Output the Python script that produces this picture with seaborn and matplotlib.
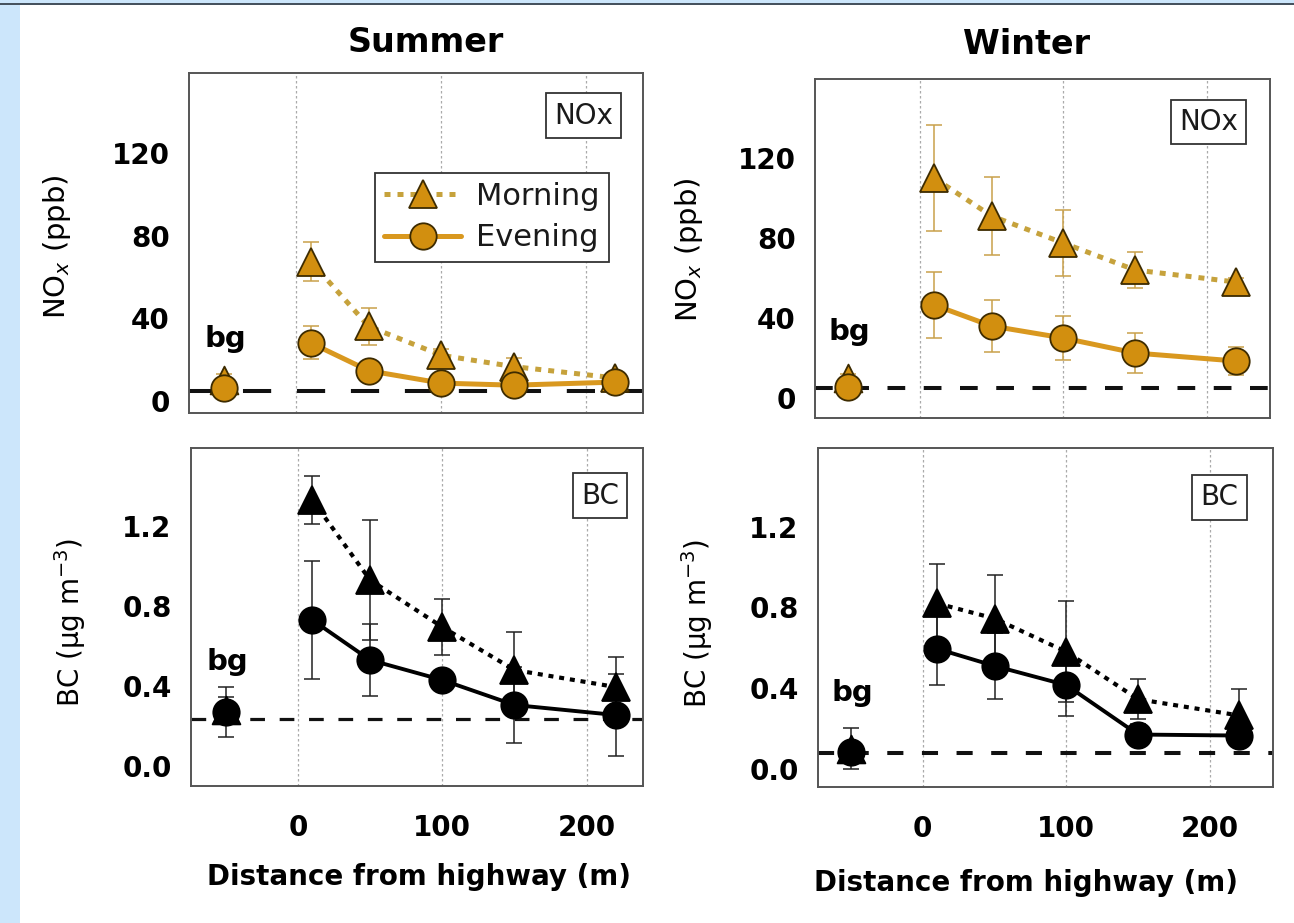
import matplotlib
matplotlib.use("Agg")
import matplotlib.pyplot as plt
from matplotlib.lines import Line2D
from matplotlib.patches import Rectangle
import seaborn as sns

# distances of the roadside sites, background site drawn at -50
dist = [10, 50, 100, 150, 220]
bg_x = -50

# summer NOx (ppb)
s_nox_morning = [67.5, 36, 22, 16.5, 11]
s_nox_morning_err = [9.5, 9, 3, 4, 3]
s_nox_evening = [28, 14.5, 8.5, 7.5, 9]
s_nox_evening_err = [8, 4, 3, 3, 3]
s_nox_bg = [10, 6.3]          # morning, evening
s_nox_bg_err = [3, 2]
s_nox_bg_level = 4.5

# summer BC (ug m-3)
s_bc_morning = [1.33, 0.93, 0.695, 0.48, 0.395]
s_bc_morning_err = [0.12, 0.3, 0.14, 0.19, 0.15]
s_bc_evening = [0.73, 0.53, 0.43, 0.305, 0.255]
s_bc_evening_err = [0.295, 0.18, 0.03, 0.19, 0.205]
s_bc_bg = [0.28, 0.27]
s_bc_bg_err = [0.065, 0.125]
s_bc_bg_level = 0.235

# winter NOx (ppb)
w_nox_morning = [110, 91, 77.5, 64, 58]
w_nox_morning_err = [26.5, 19.3, 16.3, 9, 2]
w_nox_evening = [46.5, 36, 30, 22.5, 18.5]
w_nox_evening_err = [16.3, 12.8, 11, 10, 7]
w_nox_bg = [10, 5.5]
w_nox_bg_err = [2, 1]
w_nox_bg_level = 5

# winter BC (ug m-3)
w_bc_morning = [0.82, 0.745, 0.58, 0.345, 0.265]
w_bc_morning_err = [0.195, 0.215, 0.25, 0.1, 0.13]
w_bc_evening = [0.595, 0.51, 0.415, 0.17, 0.165]
w_bc_evening_err = [0.18, 0.165, 0.155, 0.05, 0.05]
w_bc_bg = [0.1, 0.085]
w_bc_bg_err = [0.1, 0.03]
w_bc_bg_level = 0.08

x_ticks = [0, 100, 200]
nox_ticks = [0, 40, 80, 120]
nox_minor = [20, 60, 100, 140]
bc_ticks = [0.0, 0.4, 0.8, 1.2]
bc_tick_labels = ["0.0", "0.4", "0.8", "1.2"]
bc_minor = [0.2, 0.6, 1.0, 1.4]

GOLD = "#d28f0f"
GOLD_EDGE = "#3d2b00"
MORNING_GOLD = "#c6a23c"
EVENING_GOLD = "#d9981f"
GOLD_ERR = "#c9a04a"

sns.set_style("white")
plt.rcParams["font.family"] = ["DejaVu Sans"]
plt.rcParams["text.color"] = "black"
plt.rcParams["axes.labelcolor"] = "black"
plt.rcParams["xtick.labelcolor"] = "black"
plt.rcParams["ytick.labelcolor"] = "black"

W, H = 1294, 923
fig = plt.figure(figsize=(W / 100, H / 100), dpi=100, facecolor="white")

# light blue page frame
fig.patches.append(Rectangle((0, 0), 20 / W, 1, transform=fig.transFigure,
                             fc="#cce6fb", ec="none", zorder=0))
fig.patches.append(Rectangle((0, 1 - 3 / H), 1, 3 / H, transform=fig.transFigure,
                             fc="#cce6fb", ec="none", zorder=0))
fig.patches.append(Rectangle((0, 1 - 5 / H), 1, 2 / H, transform=fig.transFigure,
                             fc="#46525e", ec="none", zorder=0))


def rect(l, t, r, b):
    return [l / W, 1 - b / H, (r - l) / W, (b - t) / H]


def panel(ax, morning, m_err, evening, e_err, bg, bg_err, bg_level, kind, dash):
    if kind == "nox":
        fill, edge, mline, eline, errc = GOLD, GOLD_EDGE, MORNING_GOLD, EVENING_GOLD, GOLD_ERR
        mlw, elw = 3.6, 3.6
    else:
        fill, edge, mline, eline, errc = "black", "black", "black", "black", "#222222"
        mlw, elw = 3.0, 2.8

    for v in x_ticks:
        ax.axvline(v, color="#aaaaaa", lw=0.9, linestyle=(0, (2, 2)), zorder=0.5)
    ax.axhline(bg_level, color="#111111", lw=dash[2], linestyle=(0, dash[:2]), zorder=1.5)

    ax.errorbar(dist, morning, yerr=m_err, fmt="none", ecolor=errc, elinewidth=1.1,
                capsize=6, capthick=1.1, zorder=2)
    ax.errorbar(dist, evening, yerr=e_err, fmt="none", ecolor=errc, elinewidth=1.1,
                capsize=6, capthick=1.1, zorder=2)
    ax.errorbar([bg_x, bg_x], bg, yerr=bg_err, fmt="none", ecolor=errc, elinewidth=1.1,
                capsize=6, capthick=1.1, zorder=2)

    sns.lineplot(x=dist, y=morning, ax=ax, errorbar=None, color=mline, linewidth=mlw,
                 linestyle=(0, (1.2, 1.4)), marker="^", markersize=20,
                 markerfacecolor=fill, markeredgecolor=edge, markeredgewidth=1.3, zorder=3)
    sns.lineplot(x=dist, y=evening, ax=ax, errorbar=None, color=eline, linewidth=elw,
                 marker="o", markersize=19, markerfacecolor=fill,
                 markeredgecolor=edge, markeredgewidth=1.3, zorder=3.1)
    sns.scatterplot(x=[bg_x], y=[bg[0]], ax=ax, marker="^", s=400, color=fill,
                    edgecolor=edge, linewidth=1.3, zorder=3)
    sns.scatterplot(x=[bg_x], y=[bg[1]], ax=ax, marker="o", s=361, color=fill,
                    edgecolor=edge, linewidth=1.3, zorder=3.1)

    for s in ax.spines.values():
        s.set_color("#555555")
        s.set_linewidth(1.4)
    ax.set_xticks(x_ticks)
    if kind == "nox":
        ax.set_yticks(nox_ticks)
        ax.set_yticks(nox_minor, minor=True)
    else:
        ax.set_yticks(bc_ticks, labels=bc_tick_labels)
        ax.set_yticks(bc_minor, minor=True)
    ax.tick_params(axis="x", which="major", direction="out", length=11, width=1,
                   color="#444444", labelcolor="black", labelsize=20, pad=9)
    ax.tick_params(axis="y", which="both", direction="out", color="#888888", width=1,
                   labelcolor="black")
    ax.tick_params(axis="y", which="major", length=7, labelsize=20, pad=7)
    ax.tick_params(axis="y", which="minor", length=6)
    plt.setp(ax.get_xticklabels() + ax.get_yticklabels(), fontweight="bold")
    ax.set_xlabel("")
    ax.set_ylabel("")


def tag(ax, x, y, s):
    ax.text(x, y, s, transform=ax.transAxes, ha="center", va="center", fontsize=20,
            color="#1a1a1a",
            bbox=dict(boxstyle="square,pad=0.3", fc="white", ec="#333333", lw=1.3),
            zorder=5)


def bg_label(ax, y):
    ax.text(bg_x + 1, y, "bg", ha="center", va="center", fontsize=21,
            fontweight="bold", color="black", zorder=4)


# summer NOx
ax1 = fig.add_axes(rect(189, 73, 643, 413))
panel(ax1, s_nox_morning, s_nox_morning_err, s_nox_evening, s_nox_evening_err,
      s_nox_bg, s_nox_bg_err, s_nox_bg_level, "nox", (7, 6.4, 2.9))
ax1.set_xlim(-74, 239)
ax1.set_ylim(-6, 159)
ax1.tick_params(axis="x", labelbottom=False)
ax1.set_ylabel("NO$_x$ (ppb)", fontsize=21, color="black")
ax1.yaxis.set_label_coords(-0.255, 0.49)
tag(ax1, 0.869, 0.875, "NOx")
bg_label(ax1, 30)
handles = [
    Line2D([], [], color=MORNING_GOLD, lw=3.6, linestyle=(0, (1.2, 1.4)), marker="^",
           ms=20, mfc=GOLD, mec=GOLD_EDGE, mew=1.3),
    Line2D([], [], color=EVENING_GOLD, lw=3.6, marker="o", ms=19, mfc=GOLD,
           mec=GOLD_EDGE, mew=1.3),
]
leg = ax1.legend(handles, ["Morning", "Evening"], loc="upper left",
                 bbox_to_anchor=(0.41, 0.706), borderaxespad=0, fontsize=22,
                 frameon=True, fancybox=False, edgecolor="#333333", framealpha=1,
                 handlelength=2.5, handletextpad=0.5, labelspacing=0.4, borderpad=0.3)
leg.get_frame().set_linewidth(1.3)
for t in leg.get_texts():
    t.set_color("#1a1a1a")
leg.set_zorder(6)

# summer BC
ax2 = fig.add_axes(rect(191, 448, 643, 786))
panel(ax2, s_bc_morning, s_bc_morning_err, s_bc_evening, s_bc_evening_err,
      s_bc_bg, s_bc_bg_err, s_bc_bg_level, "bc", (4.6, 4.6, 2.3))
ax2.set_xlim(-74, 239)
ax2.set_ylim(-0.1, 1.59)
ax2.set_ylabel("BC (μg m$^{-3}$)", fontsize=20, color="black")
ax2.yaxis.set_label_coords(-0.227, 0.485)
ax2.set_xlabel("Distance from highway (m)", fontsize=20, fontweight="bold", color="black")
ax2.xaxis.set_label_coords(0.505, -0.228)
tag(ax2, 0.905, 0.859, "BC")
bg_label(ax2, 0.52)

# winter NOx
ax3 = fig.add_axes(rect(815, 79, 1270, 418))
panel(ax3, w_nox_morning, w_nox_morning_err, w_nox_evening, w_nox_evening_err,
      w_nox_bg, w_nox_bg_err, w_nox_bg_level, "nox", (4.4, 4.6, 2.9))
ax3.set_xlim(-73, 244)
ax3.set_ylim(-10, 159.5)
ax3.tick_params(axis="x", labelbottom=False)
ax3.set_ylabel("NO$_x$ (ppb)", fontsize=21, color="black")
ax3.yaxis.set_label_coords(-0.242, 0.498)
tag(ax3, 0.865, 0.873, "NOx")
bg_label(ax3, 33)

# winter BC
ax4 = fig.add_axes(rect(818, 448, 1273, 787))
panel(ax4, w_bc_morning, w_bc_morning_err, w_bc_evening, w_bc_evening_err,
      w_bc_bg, w_bc_bg_err, w_bc_bg_level, "bc", (4.0, 4.6, 2.9))
ax4.set_xlim(-73, 244)
ax4.set_ylim(-0.09, 1.59)
ax4.set_ylabel("BC (μg m$^{-3}$)", fontsize=20, color="black")
ax4.yaxis.set_label_coords(-0.226, 0.482)
ax4.set_xlabel("Distance from highway (m)", fontsize=20, fontweight="bold", color="black")
ax4.xaxis.set_label_coords(0.457, -0.242)
tag(ax4, 0.882, 0.854, "BC")
bg_label(ax4, 0.378)

fig.text(426 / W, 1 - 42 / H, "Summer", ha="center", va="center", fontsize=24,
         fontweight="bold", color="black")
fig.text(1027 / W, 1 - 44 / H, "Winter", ha="center", va="center", fontsize=24,
         fontweight="bold", color="black")

fig.savefig("out.png", dpi=100, facecolor="white")
